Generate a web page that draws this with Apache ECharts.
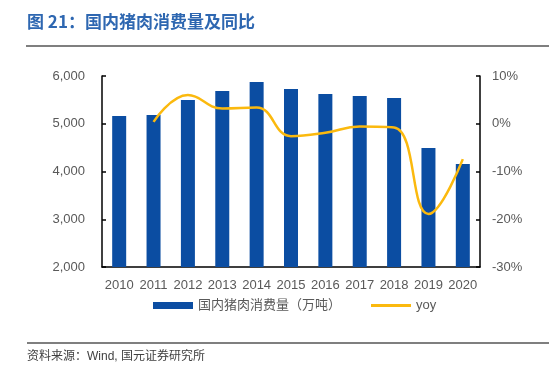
<!DOCTYPE html>
<html><head><meta charset="utf-8">
<script src="https://cdn.jsdelivr.net/npm/echarts@6/dist/echarts.min.js"></script>
<style>html,body{margin:0;padding:0;background:#fff}#c{width:549px;height:373px}</style>
</head><body><div id="c"></div>
<script>
const years = ['2010','2011','2012','2013','2014','2015','2016','2017','2018','2019','2020'];
const consumption = [5162, 5183, 5497, 5686, 5874, 5728, 5623, 5581, 5539, 4492, 4157];
const yoy = [null, 0.4, 6.0, 3.2, 3.4, -2.6, -1.9, -0.6, -0.8, -18.9, -7.4];
const titleText = '图 21：国内猪肉消费量及同比';
const sourceText = '资料来源：Wind, 国元证券研究所';
const barName = '国内猪肉消费量（万吨）';
const lineName = 'yoy';

const FONT = '"Liberation Sans", Arial, "Noto Sans CJK SC", sans-serif';
const chart = echarts.init(document.getElementById('c'), null, {renderer: 'canvas'});
chart.setOption({
  animation: false,
  textStyle: {fontFamily: FONT},
  grid: {left: 102, right: 69, top: 76, bottom: 106},
  legend: {
    left: 148, top: 294, itemWidth: 40, itemHeight: 7, itemGap: 30,
    textStyle: {fontSize: 13, color: '#595959', fontFamily: FONT},
    data: [{name: barName, icon: 'rect'}, {name: lineName, icon: 'path://M0,0 L40,0 L40,3 L0,3 Z'}]
  },
  xAxis: {
    type: 'category', data: years,
    axisLine: {onZero: false, lineStyle: {color: '#000', width: 1.5}},
    axisTick: {inside: true, length: 4, interval: 0, lineStyle: {color: '#000', width: 1.5}},
    axisLabel: {fontSize: 13, color: '#595959', margin: 12, interval: 0, fontFamily: FONT}
  },
  yAxis: [{
    type: 'value', min: 2000, max: 6000, interval: 1000,
    axisLine: {show: true, lineStyle: {color: '#000', width: 1.5}},
    axisTick: {show: true, inside: true, length: 4, lineStyle: {color: '#000', width: 1.5}},
    splitLine: {show: false},
    axisLabel: {fontSize: 13, color: '#595959', margin: 17, fontFamily: FONT,
      formatter: v => v.toLocaleString('en-US')}
  }, {
    type: 'value', min: -30, max: 10, interval: 10, position: 'right',
    axisLine: {show: true, lineStyle: {color: '#000', width: 1.5}},
    axisTick: {show: true, inside: true, length: 4, lineStyle: {color: '#000', width: 1.5}},
    splitLine: {show: false},
    axisLabel: {fontSize: 13, color: '#595959', margin: 12, fontFamily: FONT, formatter: '{value}%'}
  }],
  series: [{
    name: barName, type: 'bar', data: consumption, barWidth: 14,
    itemStyle: {color: '#0B4DA2'}
  }, {
    name: lineName, type: 'line', yAxisIndex: 1, data: yoy, smooth: 0.45,
    showSymbol: false, symbol: 'none',
    lineStyle: {color: '#FBB90E', width: 2.5},
    itemStyle: {color: '#FBB90E'}
  }],
  graphic: [
    {type: 'text', left: 27, top: 13, style: {text: titleText, fontSize: 17, fontWeight: 'bold',
      fill: '#2E67B1', fontFamily: '"Noto Sans CJK SC", sans-serif'}},
    {type: 'line', shape: {x1: 26, y1: 46, x2: 549, y2: 46}, style: {stroke: '#000', lineWidth: 1.2}},
    {type: 'line', shape: {x1: 27, y1: 343, x2: 549, y2: 343}, style: {stroke: '#000', lineWidth: 1.2}},
    {type: 'text', left: 27, top: 351, style: {text: sourceText, fontSize: 12, fill: '#404040',
      fontFamily: '"Liberation Sans", Arial, "Noto Sans CJK SC", sans-serif'}}
  ]
});
</script></body></html>
